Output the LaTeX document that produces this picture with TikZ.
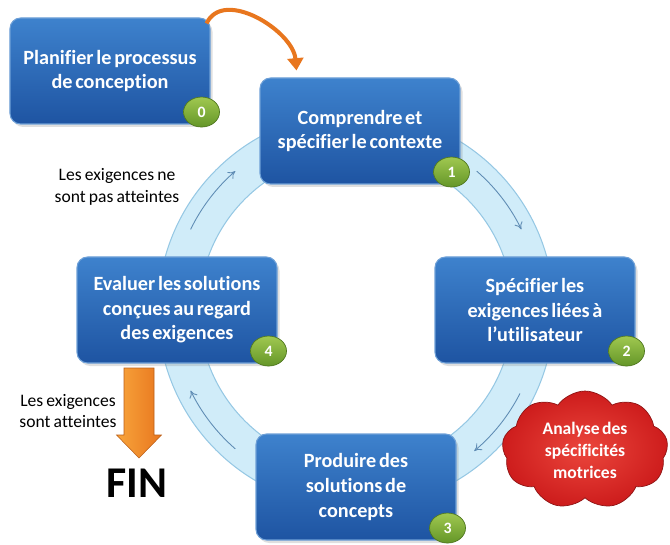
\documentclass[tikz,border=0pt]{standalone}
\usepackage{fontspec}
\setmainfont[WordSpace=0.8, Ligatures=NoCommon, BoldFeatures={WordSpace=0.6}]{Carlito}
\usepackage{tikz}
\usetikzlibrary{shapes.geometric, shapes.symbols, arrows.meta, positioning, calc, shadows}
\definecolor{boxtop}{RGB}{62,130,205}
\definecolor{boxbot}{RGB}{30,84,162}
\definecolor{boxedge}{RGB}{110,160,215}
\definecolor{badgetop}{RGB}{160,200,80}
\definecolor{badgebot}{RGB}{100,150,40}
\definecolor{ringfill}{RGB}{208,236,249}
\definecolor{ringedge}{RGB}{150,200,228}
\definecolor{ringarrow}{RGB}{95,140,180}
\definecolor{myorange}{RGB}{232,118,30}
\definecolor{myorangelt}{RGB}{248,165,60}
\definecolor{cloudred}{RGB}{205,28,28}
\definecolor{cloudlt}{RGB}{235,70,60}
\tikzset{
  etape/.style={rectangle, draw=boxedge, top color=boxtop, bottom color=boxbot,
    align=center, minimum width=4cm, minimum height=2.12cm,
    font=\bfseries\fontsize{11.5}{14}\selectfont, text=white, rounded corners=6pt,
    line width=0.6pt, drop shadow={opacity=0.25, shadow xshift=0.05cm, shadow yshift=-0.06cm}},
  badge/.style={ellipse, draw=badgebot!80!black, top color=badgetop, bottom color=badgebot,
    minimum width=0.72cm, minimum height=0.6cm, inner sep=0pt,
    font=\bfseries\small, text=white, line width=0.4pt},
  remarque/.style={align=center, font=\fontsize{10}{12.5}\selectfont},
  cyclearrow/.style={-{To[length=4pt, width=5pt]}, color=ringarrow, line width=0.5pt},
  orangearrow/.style={-{Triangle[length=7pt, width=9pt]}, color=myorange, line width=2.3pt}
}
\begin{document}
\begin{tikzpicture}
  \useasboundingbox (0,0) rectangle (13.4,10.88);

  \coordinate (centre) at (7.12,4.68);
  \fill[ringfill, even odd rule] (centre) circle (3.96) (centre) circle (3.14);
  \draw[ringedge, line width=0.6pt] (centre) circle (3.96) (centre) circle (3.14);
  \foreach \a in {49,-27,-131,154}
    \draw[cyclearrow] ([shift={(\a:3.68)}]centre) arc[start angle=\a, delta angle=-23, radius=3.68];

  \node[etape] (b0) at (2.20,9.46) {Planifier le processus\\de conception};
  \node[etape] (b1) at (7.20,8.26) {Comprendre et\\spécifier le contexte};
  \node[etape] (b2) at (10.70,4.68) {Spécifier les\\exigences liées à\\l’utilisateur};
  \node[etape] (b3) at (7.12,1.14) {Produire des\\solutions de\\concepts};
  \node[etape] (b4) at (3.54,4.68) {Evaluer les solutions\\conçues au regard\\des exigences};

  \foreach \i in {0,...,4}
    \node[badge] (n\i) at ($(b\i.south east)+(-0.18,0.25)$) {\i};

  \coordinate (arrivee) at ($(b1.north west)+(0.74,0.14)$);
  \draw[orangearrow] ($(b0.north east)+(-0.08,-0.12)$) to[out=65, in=95] (arrivee);

  \node[remarque] (nonatteint) at (2.34,7.14) {Les exigences ne\\sont pas atteintes};
  \node[remarque] (atteint) at (1.36,2.66) {Les exigences\\sont atteintes};

  \shade[left color=myorangelt, right color=myorange, draw=myorange!80!black, line width=0.3pt]
    (2.48,3.52) -- (3.08,3.52) -- (3.08,2.18) -- (3.23,2.18) -- (2.78,1.72)
    -- (2.33,2.18) -- (2.48,2.18) -- cycle;
  \node[font=\bfseries\fontsize{25}{25}\selectfont] (fin) at (2.74,1.22) {FIN};

  \node[cloud, cloud puffs=9, cloud puff arc=110, aspect=1.6, draw=cloudred!70!black,
    inner color=cloudlt, outer color=cloudred, minimum width=3.32cm, minimum height=2.1cm,
    align=center, font=\bfseries\fontsize{10}{12.5}\selectfont, text=white] (analyse)
    at (11.70,1.88) {Analyse des\\spécificités\\motrices};
\end{tikzpicture}
\end{document}
